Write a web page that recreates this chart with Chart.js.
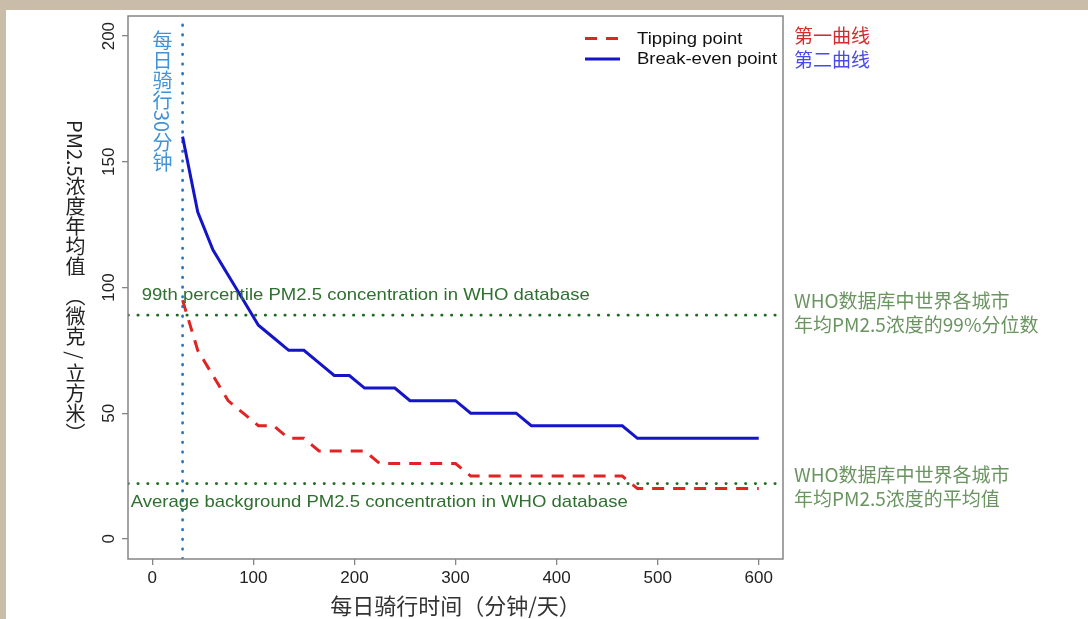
<!DOCTYPE html>
<html><head><meta charset="utf-8">
<script src="https://cdn.jsdelivr.net/npm/chart.js@4.4.1/dist/chart.umd.min.js"></script>
<style>
html,body{margin:0;padding:0;}
body{width:1088px;height:619px;overflow:hidden;position:relative;background:#c9bda9;font-family:"Noto Sans CJK SC",sans-serif;}
#card{position:absolute;left:6px;top:10px;width:1082px;height:609px;background:#fff;}
#wrap{position:absolute;left:0;top:0;width:1088px;height:619px;}
.vt{position:absolute;writing-mode:vertical-rl;text-orientation:mixed;white-space:nowrap;font-size:20px;line-height:24px;}
.note{position:absolute;left:794px;font-size:19px;line-height:24px;white-space:nowrap;}
</style></head>
<body>
<div id="card"></div>
<div id="wrap"><canvas id="c" width="1088" height="619"></canvas></div>
<div id="ytitle" class="vt" style="left:63px;top:120px;color:#222;">PM2.5浓度年均值　（微克 / 立方米）</div>
<div id="ride" class="vt" style="left:150px;top:30px;color:#4292d6;">每日骑行30分钟</div>
<div class="note" style="top:23px;"><span style="color:#d42b2b">第一曲线</span><br><span style="color:#4a4ae6">第二曲线</span></div>
<div class="note" style="top:288px;color:#6a9460">WHO数据库中世界各城市<br>年均PM2.5浓度的99%分位数</div>
<div class="note" style="top:462px;color:#6a9460">WHO数据库中世界各城市<br>年均PM2.5浓度的平均值</div>
<script>
const xTicks = [0, 100, 200, 300, 400, 500, 600];
const yTicks = [0, 50, 100, 150, 200];
const xRange = [-24, 624];
const yRange = [-8, 208];
const tipX = [30, 45, 60, 75, 90, 105, 120, 135, 150, 165, 210, 225, 300, 315, 465, 480, 600];
const tipY = [95, 75, 65, 55, 50, 45, 45, 40, 40, 35, 35, 30, 30, 25, 25, 20, 20];
const beX = [30, 45, 60, 75, 90, 105, 120, 135, 150, 165, 180, 195, 210, 240, 255, 300, 315, 360, 375, 465, 480, 600];
const beY = [160, 130, 115, 105, 95, 85, 80, 75, 75, 70, 65, 65, 60, 60, 55, 55, 50, 50, 45, 45, 40, 40];
const seriesNames = ['Tipping point', 'Break-even point'];
const pct99 = 89;
const avgBg = 22;
const rideMin = 30;
const refLabels = ['99th percentile PM2.5 concentration in WHO database', 'Average background PM2.5 concentration in WHO database'];
const xTitle = '每日骑行时间（分钟/天）';

const pts = (xs, ys) => xs.map((x, i) => ({x, y: ys[i]}));

function st(ctx, t, x, y, sx) {
  ctx.save(); ctx.translate(x, y); ctx.scale(sx, 1); ctx.fillText(t, 0, 0); ctx.restore();
}

const decor = {
  id: 'decor',
  afterDatasetsDraw(chart) {
    const {ctx, chartArea: a, scales: {x, y}} = chart;
    ctx.save();
    ctx.setLineDash([]);
    ctx.strokeStyle = '#858585'; ctx.lineWidth = 1.5;
    ctx.strokeRect(a.left, a.top, a.right - a.left, a.bottom - a.top);
    ctx.font = '17px "Liberation Sans", Arial, sans-serif';
    ctx.textAlign = 'left'; ctx.textBaseline = 'alphabetic';
    ctx.fillStyle = '#2f6f2f';
    st(ctx, refLabels[0], x.getPixelForValue(-10.4), y.getPixelForValue(pct99) - 15, 1.09);
    st(ctx, refLabels[1], x.getPixelForValue(-21.4), y.getPixelForValue(avgBg) + 23, 1.09);
    // legend
    const ly = [a.top + 22.5, a.top + 43];
    [0, 1].forEach(i => {
      const ds = chart.data.datasets[i];
      ctx.strokeStyle = ds.borderColor; ctx.lineWidth = ds.borderWidth;
      ctx.setLineDash(ds.borderDash || []);
      ctx.beginPath(); ctx.moveTo(a.right - 198, ly[i]); ctx.lineTo(a.right - 163, ly[i]); ctx.stroke();
      ctx.setLineDash([]);
      ctx.fillStyle = '#111'; ctx.textBaseline = 'middle';
      st(ctx, ds.label, a.right - 146, ly[i] + 0.5, 1.09);
    });
    ctx.restore();
  }
};

const chart = new Chart(document.getElementById('c'), {
  type: 'line',
  data: {
    datasets: [
      {label: seriesNames[0], data: pts(tipX, tipY), borderColor: '#e02424', borderWidth: 3, borderDash: [12, 9], pointRadius: 0, tension: 0, fill: false},
      {label: seriesNames[1], data: pts(beX, beY), borderColor: '#1414c8', borderWidth: 3, pointRadius: 0, tension: 0, fill: false},
      {label: 'p99', data: pts(xRange, [pct99, pct99]), borderColor: '#1d6b1d', borderWidth: 2.6, borderDash: [0.5, 9.3], borderCapStyle: 'round', pointRadius: 0},
      {label: 'avg', data: pts(xRange, [avgBg, avgBg]), borderColor: '#1d6b1d', borderWidth: 2.6, borderDash: [0.5, 9.3], borderCapStyle: 'round', pointRadius: 0},
      {label: 'ride', data: pts([rideMin, rideMin], yRange), borderColor: '#2c78b9', borderWidth: 2.8, borderDash: [0.5, 9.2], borderCapStyle: 'round', pointRadius: 0}
    ]
  },
  options: {
    responsive: false,
    animation: false,
    layout: {padding: {top: 16, right: 305, left: 0, bottom: 0}},
    plugins: {legend: {display: false}, tooltip: {enabled: false}},
    scales: {
      x: {
        type: 'linear', min: xRange[0], max: xRange[1],
        afterBuildTicks: s => { s.ticks = xTicks.map(v => ({value: v})); },
        afterFit: s => { s.height = 60; },
        grid: {display: true, drawOnChartArea: false, drawTicks: true, tickLength: 6, color: '#858585', lineWidth: 1.3},
        border: {display: false},
        ticks: {autoSkip: false, maxRotation: 0, padding: 3, color: '#222', font: {family: '"Liberation Sans", Arial, sans-serif', size: 17}},
        title: {display: true, text: xTitle, color: '#333', font: {family: '"Noto Sans CJK SC", sans-serif', size: 22}, padding: {top: 0, bottom: 0}}
      },
      y: {
        type: 'linear', min: yRange[0], max: yRange[1],
        afterBuildTicks: s => { s.ticks = yTicks.map(v => ({value: v})); },
        afterFit: s => { s.width = 128; },
        grid: {display: true, drawOnChartArea: false, drawTicks: true, tickLength: 6, color: '#858585', lineWidth: 1.3},
        border: {display: false},
        ticks: {autoSkip: false, minRotation: 90, maxRotation: 90, crossAlign: 'center', padding: -1, color: '#222', font: {family: '"Liberation Sans", Arial, sans-serif', size: 17}}
      }
    }
  },
  plugins: [decor]
});
// place the ride label next to its line
const rx = chart.scales.x.getPixelForValue(rideMin);
document.getElementById('ride').style.left = (rx - 32.5) + 'px';
</script>
</body></html>
